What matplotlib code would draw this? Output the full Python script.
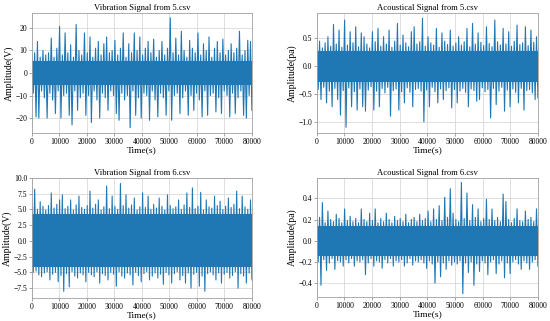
import numpy as np
import matplotlib
matplotlib.use('Agg')
from matplotlib import pyplot as plt

plt.rcParams['font.family'] = ['Liberation Serif', 'DejaVu Serif']
plt.rcParams['font.size'] = 5.5
plt.rcParams['path.simplify'] = False

n_samples = 80000

# upper / lower excursions, 80 per signal, left to right
vib5_peaks = [8, 9, 14, 7, 10, 8, 9, 15.5, 7, 11, 20.7, 8, 17.8, 9, 12.5, 7, 21.5, 10, 8, 17.8,
              9, 16, 7, 11, 14, 8, 13, 16, 9, 10, 14.5, 8, 11, 17.8, 7, 13, 9, 17.8, 10, 16,
              8, 11, 14, 9, 15, 7, 10, 14, 8, 11, 24.5, 9, 15.5, 8, 18.5, 10, 7, 14.5, 11, 9,
              17.8, 8, 13, 10, 16, 7, 11, 14, 9, 15, 8, 10, 13, 9, 11, 18.5, 8, 10, 14.5, 14]
vib5_troughs = [-9, -19.5, -20, -8, -11, -20, -9, -12, -18, -8, -20, -10, -9, -18.8, -23, -8, -16.6, -11, -9, -18.8,
                -10, -22, -8, -12, -20, -9, -11, -16.6, -8, -10, -18, -21, -9, -12, -10, -24.3, -8, -18.8, -11, -20,
                -9, -10, -21, -8, -12, -19.5, -9, -11, -18.8, -8, -21, -10, -9, -18, -11, -8, -18.8, -10, -16.6, -9,
                -12, -19.5, -8, -18.8, -10, -9, -17.3, -11, -18, -8, -10, -19.5, -9, -18, -11, -8, -18.8, -20, -10, -16.6]

ac5_peaks = [0.38, 0.45, 0.33, 0.42, 0.53, 0.36, 0.75, 0.4, 0.65, 0.34, 0.83, 0.38, 0.62, 0.42, 0.71, 0.35,
             0.6, 0.53, 0.4, 0.33, 0.62, 0.44, 0.68, 0.36, 0.53, 0.4, 0.65, 0.34, 0.45, 0.77, 0.38, 0.56,
             0.42, 0.35, 0.62, 0.71, 0.4, 0.44, 0.86, 0.36, 0.53, 0.42, 0.38, 0.68, 0.34, 0.6, 0.45, 0.39,
             0.65, 0.36, 0.42, 0.53, 0.38, 0.44, 0.68, 0.35, 0.77, 0.4, 0.6, 0.43, 0.37, 0.71, 0.41, 0.35,
             0.83, 0.44, 0.38, 0.68, 0.4, 0.62, 0.36, 0.45, 0.74, 0.39, 0.42, 0.71, 0.37, 0.65, 0.43, 0.53]
ac5_troughs = [-0.42, -0.6, -0.38, -0.66, -0.45, -0.73, -0.4, -0.6, -0.88, -0.44, -1.1, -0.39, -0.73, -0.46, -0.79, -0.41,
               -0.73, -0.81, -0.43, -0.37, -0.79, -0.45, -0.73, -0.4, -0.48, -0.38, -0.9, -0.44, -0.41, -0.79, -0.46, -0.66,
               -0.39, -0.47, -0.73, -0.42, -0.4, -0.45, -1.0, -0.43, -0.73, -0.38, -0.46, -0.66, -0.41, -0.6, -0.44, -0.39,
               -0.75, -0.42, -0.66, -0.45, -0.4, -0.47, -0.73, -0.41, -0.44, -0.63, -0.6, -0.39, -0.46, -0.42, -0.93, -0.4,
               -0.69, -0.45, -0.38, -0.81, -0.43, -0.73, -0.41, -0.47, -0.66, -0.4, -0.79, -0.44, -0.42, -0.48, -0.6, -0.57]

vib6_peaks = [5.3, 8.2, 5.0, 6.2, 5.5, 4.9, 5.6, 7.6, 5.2, 5.8, 6.5, 7.3, 5.1, 5.5, 6.5, 4.9, 5.7, 7.1, 5.3, 5.0,
              5.6, 7.9, 5.2, 5.8, 6.5, 4.9, 5.4, 8.7, 5.1, 7.1, 5.5, 5.0, 9.1, 5.6, 7.3, 5.2, 5.7, 6.8, 4.9, 5.4,
              7.6, 5.3, 7.1, 5.0, 5.8, 5.2, 6.8, 5.5, 4.9, 7.3, 5.6, 5.1, 5.4, 6.5, 5.0, 5.7, 7.6, 5.3, 8.4, 5.1,
              5.5, 7.7, 4.9, 6.5, 5.4, 5.2, 7.1, 5.6, 6.3, 5.0, 5.5, 6.8, 5.3, 5.8, 7.9, 5.1, 7.1, 5.4, 5.0, 6.5]
vib6_troughs = [-5.0, -4.8, -5.4, -5.7, -5.1, -4.9, -6.2, -5.3, -5.0, -6.5, -5.5, -8.0, -5.2, -7.3, -4.9, -5.6, -5.9, -5.1, -5.4, -6.5,
                -5.0, -5.4, -5.7, -4.9, -6.7, -5.2, -5.5, -6.2, -5.0, -5.3, -7.2, -4.9, -5.6, -5.9, -5.1, -5.4, -7.0, -5.0, -5.5, -6.5,
                -5.2, -4.9, -6.2, -5.6, -5.1, -5.9, -5.3, -6.9, -5.0, -5.4, -6.7, -5.2, -4.9, -6.2, -5.5, -6.7, -5.1, -7.5, -5.3, -5.0,
                -7.2, -5.6, -8.0, -5.2, -4.9, -5.4, -6.2, -5.1, -6.7, -5.3, -5.0, -5.9, -5.5, -4.9, -7.5, -5.2, -5.6, -6.7, -5.1, -6.2]

ac6_peaks = [0.19, 0.22, 0.36, 0.17, 0.28, 0.2, 0.18, 0.25, 0.21, 0.17, 0.3, 0.19, 0.23, 0.18, 0.21, 0.17,
             0.3, 0.2, 0.18, 0.26, 0.19, 0.3, 0.17, 0.21, 0.18, 0.26, 0.2, 0.17, 0.23, 0.19, 0.21, 0.18,
             0.25, 0.17, 0.2, 0.22, 0.18, 0.25, 0.19, 0.21, 0.28, 0.18, 0.3, 0.2, 0.33, 0.19, 0.41, 0.22,
             0.49, 0.26, 0.2, 0.18, 0.55, 0.21, 0.45, 0.19, 0.34, 0.22, 0.3, 0.18, 0.21, 0.39, 0.2, 0.3,
             0.19, 0.22, 0.18, 0.44, 0.37, 0.2, 0.17, 0.21, 0.3, 0.19, 0.18, 0.28, 0.2, 0.22, 0.18, 0.3]
ac6_troughs = [-0.2, -0.42, -0.18, -0.28, -0.21, -0.17, -0.27, -0.19, -0.2, -0.24, -0.18, -0.21, -0.17, -0.24, -0.19, -0.2,
               -0.18, -0.32, -0.21, -0.17, -0.24, -0.19, -0.2, -0.26, -0.18, -0.21, -0.17, -0.24, -0.19, -0.2, -0.18, -0.24,
               -0.21, -0.17, -0.23, -0.19, -0.2, -0.18, -0.21, -0.26, -0.19, -0.22, -0.4, -0.2, -0.34, -0.21, -0.27, -0.19,
               -0.23, -0.2, -0.22, -0.19, -0.5, -0.21, -0.3, -0.2, -0.42, -0.22, -0.29, -0.19, -0.21, -0.32, -0.2, -0.18,
               -0.31, -0.22, -0.19, -0.35, -0.21, -0.31, -0.2, -0.18, -0.22, -0.27, -0.19, -0.21, -0.27, -0.2, -0.18, -0.24]

# solid part of each band
core_halfwidth = [5.5, 0.28, 4.2, 0.14]

titles = ['Vibration Signal from 5.csv', 'Acoustical Signal from 5.csv',
          'Vibration Signal from 6.csv', 'Acoustical Signal from 6.csv']
ylabels = ['Amplitude(V)', 'Amplitude(pa)', 'Amplitude(V)', 'Amplitude(pa)']
ylims = [(-26.6, 26.7), (-1.2, 0.96), (-9.05, 10.0), (-0.53, 0.59)]
yticks = [[-20, -10, 0, 10, 20],
          [-1.0, -0.5, 0.0, 0.5],
          [-7.5, -5.0, -2.5, 0.0, 2.5, 5.0, 7.5, 10.0],
          [-0.4, -0.2, 0.0, 0.2, 0.4]]
ytick_fmt = ['{:.0f}', '{:.1f}', '{:.1f}', '{:.1f}']
signals = [(vib5_peaks, vib5_troughs), (ac5_peaks, ac5_troughs),
           (vib6_peaks, vib6_troughs), (ac6_peaks, ac6_troughs)]

# axes boxes in figure fractions [left, bottom, width, height]
boxes = [[0.058, 0.586, 0.400, 0.374], [0.576, 0.586, 0.402, 0.374],
         [0.058, 0.072, 0.400, 0.374], [0.576, 0.075, 0.402, 0.370]]

fig = plt.figure(figsize=(5.5, 3.21), dpi=100)

for i in range(4):
    ax = fig.add_axes(boxes[i])
    peaks, troughs = signals[i]
    y = np.empty(2 * len(peaks))
    y[0::2] = peaks
    y[1::2] = troughs
    x = np.linspace(0, n_samples, len(y))
    ax.fill_between([0, n_samples], -core_halfwidth[i], core_halfwidth[i],
                    color='#1f77b4', lw=0)
    ax.plot(x, y, color='#1f77b4', lw=0.8)
    ax.set_xlim(0, n_samples)
    ax.set_ylim(*ylims[i])
    ax.set_xticks(range(0, 80001, 10000))
    ax.set_yticks(yticks[i])
    ax.set_yticklabels([ytick_fmt[i].format(v).replace('-', '\u2212') for v in yticks[i]])
    ax.grid(True, color='#d9d9d9', lw=0.6)
    ax.set_axisbelow(True)
    for s in ax.spines.values():
        s.set_color('#a0a0a0')
        s.set_linewidth(0.6)
    ax.tick_params(labelsize=5.5, length=2, width=0.5, color='#808080', pad=1.5)
    ax.set_title(titles[i], fontsize=6.2, pad=2)
    ax.set_xlabel('Time(s)', fontsize=6.8, labelpad=0)
    ax.set_ylabel(ylabels[i], fontsize=7, labelpad=1)

fig.savefig('out.png', dpi=100)
